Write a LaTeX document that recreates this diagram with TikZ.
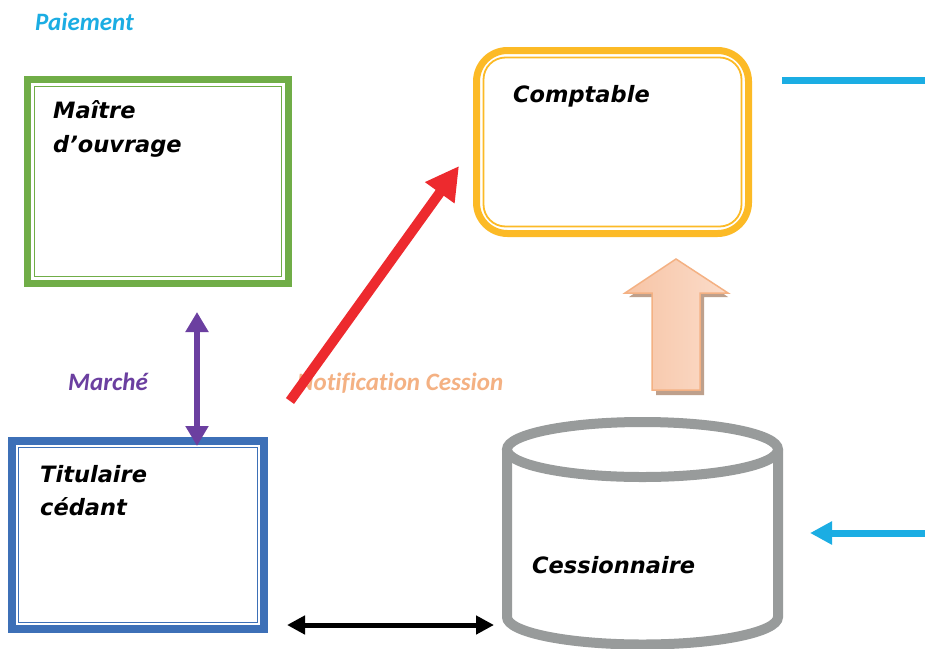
\documentclass[tikz,border=0pt]{standalone}
\usepackage{fontspec}
\setmainfont{DejaVu Sans}
\newfontfamily\calib[Ligatures=NoCommon]{Carlito}
\usetikzlibrary{arrows.meta,calc}
\definecolor{cgreen}{RGB}{112,173,71}
\definecolor{cyellow}{RGB}{252,186,38}
\definecolor{cblue}{RGB}{61,112,183}
\definecolor{cgray}{RGB}{152,155,155}
\definecolor{cred}{RGB}{237,42,46}
\definecolor{cpurple}{RGB}{107,63,160}
\definecolor{ccyan}{RGB}{27,173,227}
\definecolor{corange}{RGB}{244,177,131}
\definecolor{peachdark}{RGB}{247,196,165}
\definecolor{peachlight}{RGB}{251,220,202}
\definecolor{pshadow}{RGB}{190,160,140}
\begin{document}
\begin{tikzpicture}[x=1pt,y=-1pt,
  boxlabel/.style={font=\fontsize{22.5}{27}\selectfont\bfseries\itshape, anchor=base west, inner sep=0pt, align=left},
  sidelabel/.style={font=\calib\fontsize{25}{29}\selectfont\bfseries\itshape, anchor=base west, inner sep=0pt},
  framebox/.style={draw, fill=white, inner sep=0pt},
]
\useasboundingbox[fill=white] (0,0) rectangle (925,648);

% Green box
\node[framebox, draw=cgreen, line width=7pt, minimum width=261pt, minimum height=204pt] (mo) at (158,181.5) {};
\draw[cgreen, line width=1.8pt] ($(mo.north west)+(10.5,10.5)$) rectangle ($(mo.south east)+(-10.5,-10.5)$);
\node[boxlabel] (mot) at (53,118) {Maître};
\node[boxlabel] (mot2) at (53,152) {d’ouvrage};

% Yellow box
\node[framebox, draw=cyellow, line width=7pt, rounded corners=31pt, minimum width=272pt, minimum height=183pt] (co) at (612.5,142) {};
\draw[cyellow, line width=1.8pt, rounded corners=22pt] ($(co.north west)+(10.5,10.5)$) rectangle ($(co.south east)+(-10.5,-10.5)$);
\node[boxlabel] (cot) at (513,102) {Comptable};

% Blue box
\node[framebox, draw=cblue, line width=8pt, minimum width=252pt, minimum height=188pt] (ti) at (138,535) {};
\draw[cblue, line width=1.8pt] ($(ti.north west)+(10.5,10.5)$) rectangle ($(ti.south east)+(-10.5,-10.5)$);
\node[boxlabel] (tit) at (40,482) {Titulaire};
\node[boxlabel] (tit2) at (40,515) {cédant};

% Cylinder
\coordinate (cy) at (642.5,449.5);
\draw[cgray, line width=10pt] (507,449.5) -- (507,617) arc[start angle=180, end angle=360, x radius=135.5pt, y radius=27.5pt] -- (778,449.5);
\draw[cgray, line width=10pt] (cy) ellipse [x radius=135.5pt, y radius=27.5pt];
\node[boxlabel] (cet) at (532,573) {Cessionnaire};

% Side labels
\node[sidelabel, text=ccyan] (pai) at (35,30) {Paiement};
\node[sidelabel, text=cpurple] (mar) at (68,390) {Marché};
\node[sidelabel, text=corange] (noti) at (297,390) {Notification Cession};

% Block arrow
\fill[pshadow] (679,263) -- (728,297) -- (704,297) -- (704,395) -- (656,395) -- (656,297) -- (629,297) -- cycle;
\shade[left color=peachdark, right color=peachlight, draw=corange, line width=1.5pt]
  (676,259) -- (728,293) -- (700,293) -- (700,390) -- (652,390) -- (652,293) -- (625,293) -- cycle;

% Red arrow
\coordinate (ra) at (290,401);
\coordinate (rb) at (459,166);
\draw[cred, line width=10pt, -{Triangle[length=33pt,width=34pt]}] (ra) -- (rb);

% Purple arrow
\coordinate (pa) at (197,312);
\coordinate (pb) at (197,446);
\draw[cpurple, line width=6pt, {Triangle[length=20pt,width=22pt]}-{Triangle[length=20pt,width=22pt]}] (pa) -- (pb);

% Black arrow
\coordinate (ka) at (287,625);
\coordinate (kb) at (494,625);
\draw[black, line width=5pt, {Triangle[length=18pt,width=18pt]}-{Triangle[length=18pt,width=18pt]}] (ka) -- (kb);

% Cyan line and arrow
\coordinate (ca) at (782,80.5);
\coordinate (cb) at (925,80.5);
\draw[ccyan, line width=7pt] (ca) -- (cb);
\coordinate (da) at (925,533);
\coordinate (db) at (810,533);
\draw[ccyan, line width=7pt, -{Triangle[length=22pt,width=22pt]}] (da) -- (db);
\end{tikzpicture}
\end{document}
